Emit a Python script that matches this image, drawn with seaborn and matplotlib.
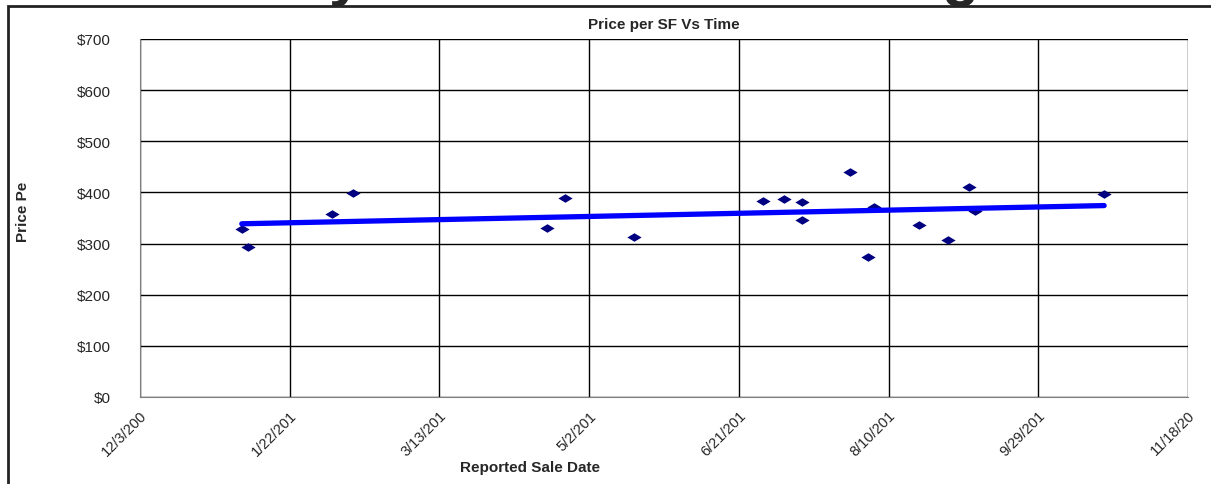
import numpy as np
import pandas as pd
import matplotlib
matplotlib.use("Agg")
import matplotlib.pyplot as plt
import matplotlib.dates as mdates
from matplotlib.patches import Rectangle
from matplotlib.path import Path
import seaborn as sns

# sale dates and price per SF
sale_dates = ["2010-01-06", "2010-01-08", "2010-02-05", "2010-02-12", "2010-04-18",
              "2010-04-24", "2010-05-17", "2010-06-29", "2010-07-06", "2010-07-12",
              "2010-07-12", "2010-07-28", "2010-08-05", "2010-08-03", "2010-08-20",
              "2010-08-30", "2010-09-06", "2010-09-08", "2010-10-21"]
price_per_sf = [328, 294, 357, 398, 330, 390, 313, 384, 387, 381,
                346, 440, 371, 273, 336, 307, 410, 364, 397]

tick_dates = ["2009-12-03", "2010-01-22", "2010-03-13", "2010-05-02",
              "2010-06-21", "2010-08-10", "2010-09-29", "2010-11-18"]
tick_labels = ["12/3/200", "1/22/201", "3/13/201", "5/2/201",
               "6/21/201", "8/10/201", "9/29/201", "11/18/20"]
y_ticks = [0, 100, 200, 300, 400, 500, 600, 700]

df = pd.DataFrame({"date": pd.to_datetime(sale_dates), "price": price_per_sf})
df["datenum"] = mdates.date2num(df["date"])
tick_nums = mdates.date2num(pd.to_datetime(tick_dates))

sns.set_style("white")
plt.rcParams["font.family"] = ["Liberation Sans", "DejaVu Sans"]

fig = plt.figure(figsize=(12.11, 4.85), dpi=100)
ax = fig.add_axes([140 / 1211, 1 - 398 / 485, 1048 / 1211, 358 / 485])

# flattened diamond like the Excel marker
diamond = Path([(-1, 0), (0, 0.6), (1, 0), (0, -0.6), (-1, 0)],
               [Path.MOVETO, Path.LINETO, Path.LINETO, Path.LINETO, Path.CLOSEPOLY])

sns.regplot(data=df, x="datenum", y="price", ax=ax, ci=None, truncate=True, marker=diamond,
            scatter_kws={"s": 105, "color": "#000080", "linewidths": 0, "zorder": 3, "alpha": 1},
            line_kws={"color": "#0000FF", "linewidth": 3.8, "zorder": 4,
                      "solid_capstyle": "round"})

ax.set_xlim(tick_nums[0], tick_nums[-1])
ax.set_ylim(0, 700)
ax.set_xticks(tick_nums)
ax.set_xticklabels(tick_labels, rotation=45, ha="right", rotation_mode="anchor", fontsize=10.5)
ax.set_yticks(y_ticks)
ax.set_yticklabels([f"${v}" for v in y_ticks], fontsize=11)

ax.grid(True, color="black", linewidth=1)
ax.set_axisbelow(True)
for side in ["top", "right"]:
    ax.spines[side].set_visible(False)
ax.spines["left"].set_color("#808080")
ax.spines["bottom"].set_color("#808080")
ax.tick_params(axis="y", direction="out", length=7, color="#404040", pad=14)
ax.tick_params(axis="x", direction="inout", length=8, color="#404040", pad=4)

ax.set_title("Price per SF Vs Time", fontsize=11, fontweight="bold", pad=8)
ax.set_xlabel("Reported Sale Date", fontsize=11, fontweight="bold")
ax.xaxis.set_label_coords((530 - 140) / 1048, -0.175)
ax.set_ylabel("Price Pe", fontsize=11, fontweight="bold")
ax.yaxis.set_label_coords(-(140 - 30) / 1048, 0.52)

# chart frame, partly cut off at right and bottom
fig.patches.append(Rectangle((8 / 1211, -0.2), 1.5, 1.2 - 7 / 485, transform=fig.transFigure,
                             fill=False, edgecolor="#222222", linewidth=2))

# descenders of the slide heading cut off above the chart
fig.text(346 / 1211, 1 + 6 / 485, "y", fontsize=44, fontweight="bold", ha="center", va="baseline")
fig.text(960 / 1211, 1 + 6 / 485, "g", fontsize=44, fontweight="bold", ha="center", va="baseline")

fig.savefig("out.png", dpi=100)
